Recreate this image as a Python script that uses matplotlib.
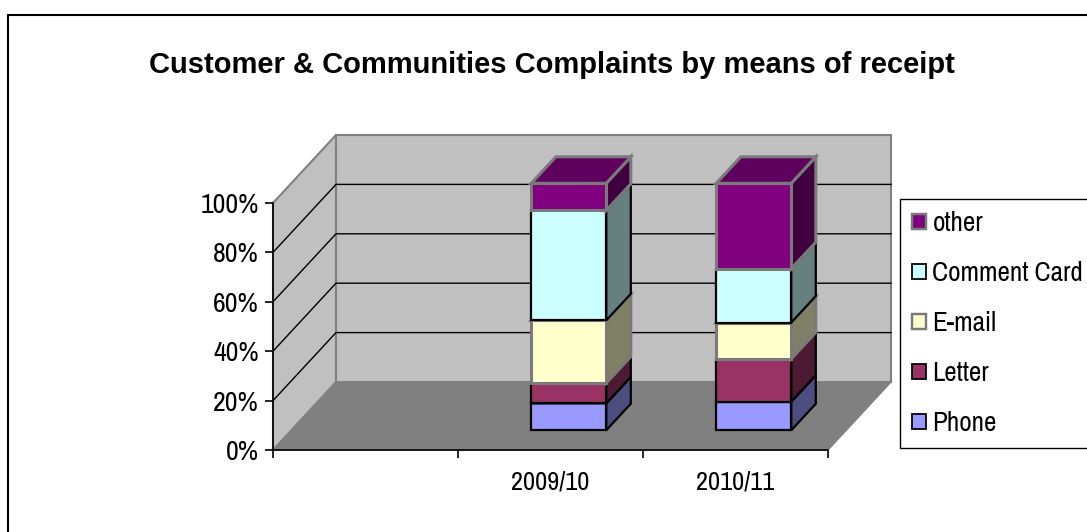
import matplotlib
matplotlib.use('Agg')
import matplotlib.pyplot as plt
from matplotlib.patches import Polygon, Patch, Rectangle

# ---------------------------
# Data (percent of complaints, 100% stacked)
# ---------------------------
title = 'Customer & Communities Complaints by means of receipt'
categories = ['', '2009/10', '2010/11']
series = ['Phone', 'Letter', 'E-mail', 'Comment Card', 'other']
phone = [0, 10.9, 11.6]
letter = [0, 8.2, 17.3]
email = [0, 25.4, 14.7]
comment_card = [0, 44.5, 21.8]
other = [0, 11.0, 34.6]
y_ticks = [0, 20, 40, 60, 80, 100]
y_labels = ['0%', '20%', '40%', '60%', '80%', '100%']

colors = ['#9999ff', '#993366', '#ffffcc', '#ccffff', '#800080']
edges = ['black', 'black', '#7a7a7a', 'black', '#7a7a7a']
edge_w = [1.6, 1.6, 2.2, 1.6, 2.2]

# ---------------------------
# Oblique "3D" projection like the old Excel chart
# ---------------------------
KX = 63 / 185      # x shift (category units) for full depth
KY = 68 / 2.47     # y shift (percent units) for full depth
bar_w = 0.405
d0, d1 = 0.29, 0.68


def proj(x, y, d):
    return (x + d * KX, y + d * KY)


def shade(c, f):
    r, g, b = matplotlib.colors.to_rgb(c)
    return (r * f, g * f, b * f)


plt.rcParams['font.family'] = ['Archivo Narrow', 'Liberation Sans', 'DejaVu Sans']

W, H = 1087, 532
fig = plt.figure(figsize=(W / 100, H / 100), dpi=100)
fig.patch.set_facecolor('white')

# outer chart border
fig.patches.append(Rectangle((8 / W, -0.1), 1.2, 1 - 15 / H + 0.1, fill=False,
                             edgecolor='black', lw=1.5, transform=fig.transFigure))

ax = fig.add_axes([273 / W, 82 / H, 555 / W, 247 / H])
ax.patch.set_visible(False)
n = len(categories)
ax.set_xlim(0, n)
ax.set_ylim(0, 100)


def poly(pts, **kw):
    p = Polygon(pts, closed=True, clip_on=False, **kw)
    ax.add_patch(p)
    return p


# floor, left wall, back wall
poly([proj(0, 0, 0), proj(n, 0, 0), proj(n, 0, 1), proj(0, 0, 1)],
     facecolor='#808080', edgecolor='#808080', lw=1, zorder=1)
poly([proj(0, 0, 0), proj(0, 0, 1), proj(0, 100, 1), proj(0, 100, 0)],
     facecolor='#c0c0c0', edgecolor='#808080', lw=1.5, zorder=1)
poly([proj(0, 0, 1), proj(n, 0, 1), proj(n, 100, 1), proj(0, 100, 1)],
     facecolor='#c0c0c0', edgecolor='#808080', lw=1.5, zorder=1)

# gridlines on walls
for yv in y_ticks[1:-1]:
    xs, ys = zip(proj(0, yv, 0), proj(0, yv, 1), proj(n, yv, 1))
    ax.plot(xs, ys, color='black', lw=1, zorder=2, clip_on=False)

# stacked 3D bars
values = [phone, letter, email, comment_card, other]
for i in range(n):
    x0 = i + 0.5 - bar_w / 2
    x1 = i + 0.5 + bar_w / 2
    bottom = 0
    for s in range(len(series)):
        h = values[s][i]
        if h <= 0:
            continue
        top = bottom + h
        kw = dict(edgecolor=edges[s], lw=edge_w[s], joinstyle='miter', zorder=3 + s)
        # side face
        poly([proj(x1, bottom, d0), proj(x1, bottom, d1), proj(x1, top, d1), proj(x1, top, d0)],
             facecolor=shade(colors[s], 0.5), **kw)
        # front face
        poly([proj(x0, bottom, d0), proj(x1, bottom, d0), proj(x1, top, d0), proj(x0, top, d0)],
             facecolor=colors[s], **kw)
        # top face
        poly([proj(x0, top, d0), proj(x1, top, d0), proj(x1, top, d1), proj(x0, top, d1)],
             facecolor=shade(colors[s], 0.74), **kw)
        bottom = top

# axes / ticks
for side in ['top', 'right']:
    ax.spines[side].set_visible(False)
for side in ['left', 'bottom']:
    ax.spines[side].set_color('black')
    ax.spines[side].set_linewidth(1.2)
    ax.spines[side].set_zorder(20)

ax.set_yticks(y_ticks)
ax.set_yticklabels(y_labels)
ax.tick_params(axis='y', direction='out', length=6, width=1.2, pad=4, labelsize=20)

ax.set_xticks(range(n + 1))
ax.set_xticklabels([''] * (n + 1))
ax.set_xticks([i + 0.5 for i in range(n)], minor=True)
ax.set_xticklabels(categories, minor=True)
ax.tick_params(axis='x', which='major', direction='out', length=6, width=1.2)
ax.tick_params(axis='x', which='minor', length=0, pad=15, labelsize=19)

fig.text(552 / W, 1 - 65 / H, title, ha='center', va='center',
         fontsize=21, fontweight='bold', family=['Liberation Sans', 'DejaVu Sans'])

handles = [Patch(facecolor=colors[s], edgecolor=edges[s], lw=edge_w[s] * 0.8, label=series[s])
           for s in range(len(series))][::-1]
leg = fig.legend(handles=handles, loc='upper left', bbox_to_anchor=(900 / W, 1 - 199 / H),
                 borderaxespad=0, fontsize=19.5, frameon=True, fancybox=False,
                 edgecolor='black', framealpha=1, handlelength=0.5, handleheight=0.5,
                 handletextpad=0.25, labelspacing=0.92, borderpad=0.45)
leg.get_frame().set_linewidth(1)

fig.savefig('out.png', dpi=100)
